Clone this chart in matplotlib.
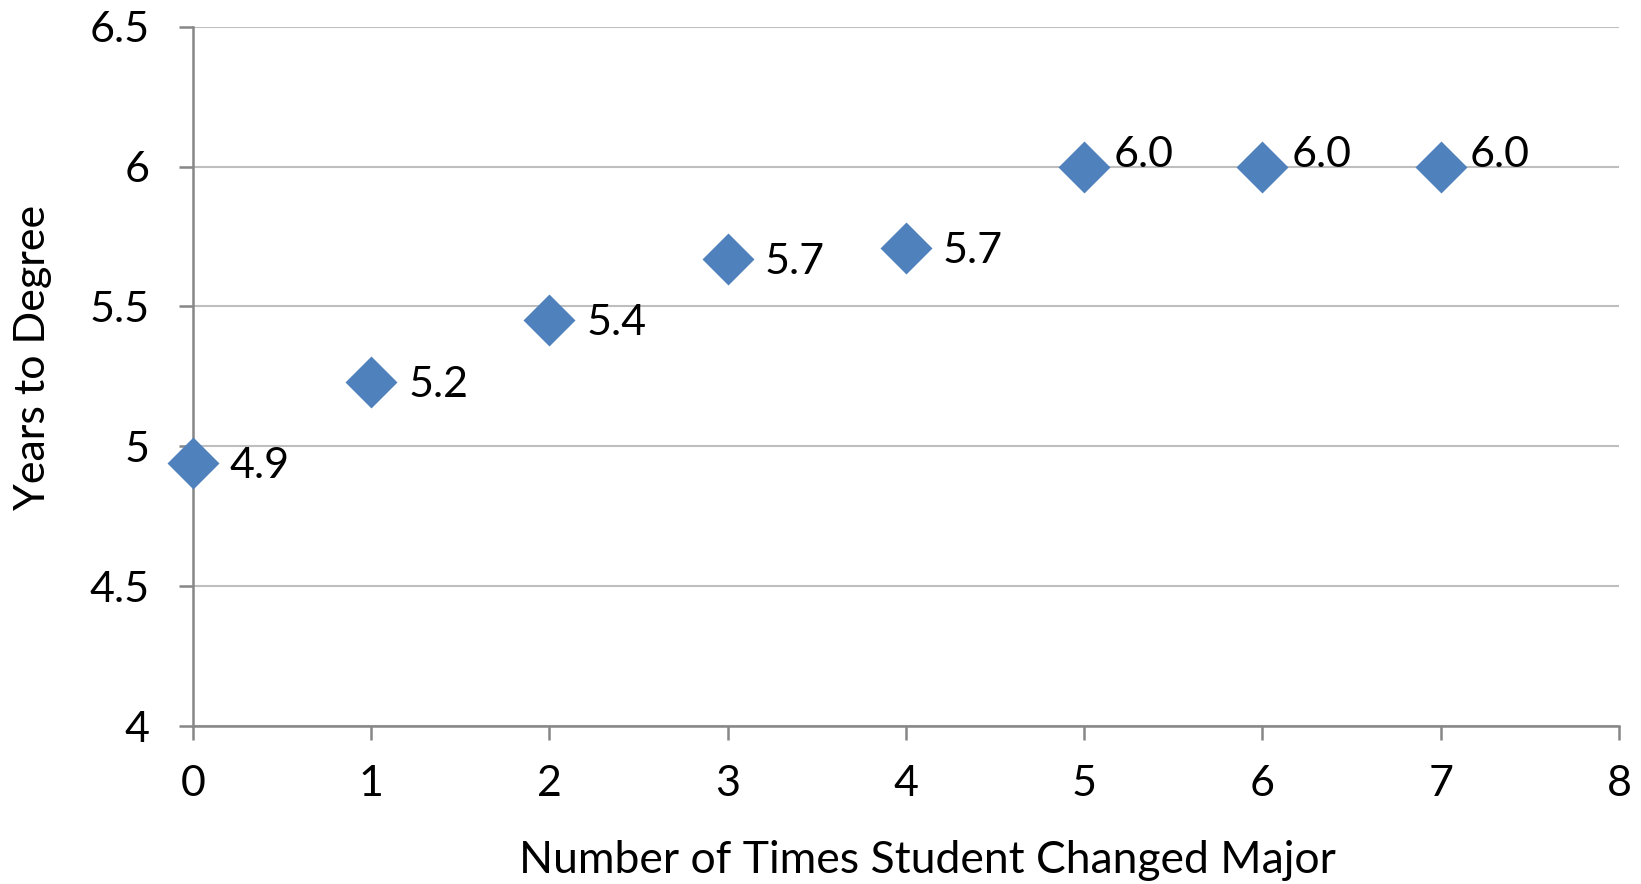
import matplotlib
matplotlib.use("Agg")
import matplotlib.pyplot as plt

plt.rcParams['font.family'] = ['Lato', 'DejaVu Sans']

# Number of times a student changed major vs. average years to degree
changes = [0, 1, 2, 3, 4, 5, 6, 7]
years = [4.94, 5.23, 5.45, 5.67, 5.71, 6.00, 6.00, 6.00]
labels = ["4.9", "5.2", "5.4", "5.7", "5.7", "6.0", "6.0", "6.0"]
x_ticks = [0, 1, 2, 3, 4, 5, 6, 7, 8]
y_ticks = [4, 4.5, 5, 5.5, 6, 6.5]
y_tick_labels = ["4", "4.5", "5", "5.5", "6", "6.5"]

FS = 31

fig = plt.figure(figsize=(16.41, 8.84), dpi=100)
ax = fig.add_axes([0.1175, 0.1787, 0.8691, 0.7911])

ax.scatter(changes, years, marker='D', s=700, color='#4F81BD', zorder=3,
           linewidths=0, clip_on=False)

for xv, yv, lab in zip(changes, years, labels):
    # labels on the top gridline sit a little higher and closer
    dx, dy = (29, 12) if yv >= 6.0 else (37, -3)
    ax.annotate(lab, (xv, yv), xytext=(dx, dy), textcoords='offset pixels',
                ha='left', va='center', fontsize=FS, color='black')

ax.set_xlim(0, 8)
ax.set_ylim(4, 6.5)
ax.set_xticks(x_ticks)
ax.set_yticks(y_ticks)
ax.set_yticklabels(y_tick_labels)

ax.grid(axis='y', color='#BEBEBE', linewidth=1.5)
ax.set_axisbelow(True)
for side in ('top', 'right'):
    ax.spines[side].set_visible(False)
for side in ('left', 'bottom'):
    ax.spines[side].set_color('#878787')
    ax.spines[side].set_linewidth(1.8)

ax.tick_params(axis='both', direction='out', length=10, width=1.8,
               color='#878787', labelsize=FS, labelcolor='black')
ax.tick_params(axis='x', pad=18)
ax.tick_params(axis='y', pad=21)

ax.set_xlabel("Number of Times Student Changed Major", fontsize=32, labelpad=27)
ax.set_ylabel("Years to Degree", fontsize=FS, labelpad=27)
ax.xaxis.label.set_x(0.515)
ax.yaxis.label.set_y(0.527)

fig.savefig("out.png", dpi=100)
